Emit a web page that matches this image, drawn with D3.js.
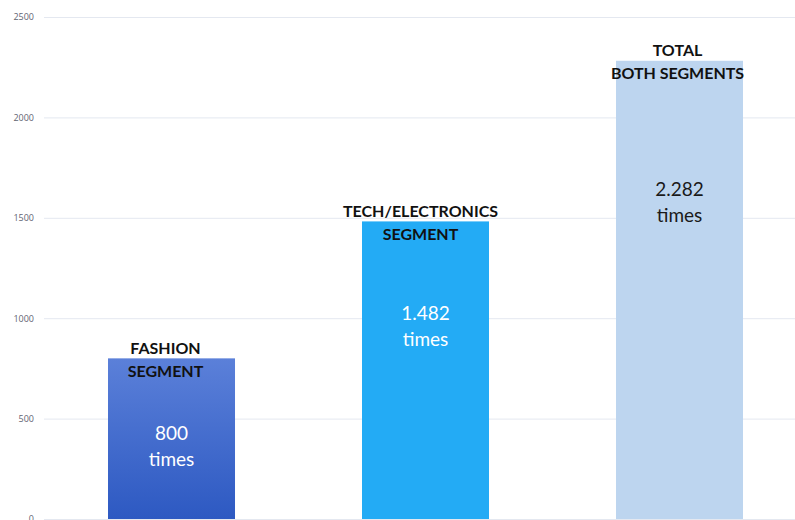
<!DOCTYPE html>
<html>
<head>
<meta charset="utf-8">
<script src="https://cdn.jsdelivr.net/npm/d3@7"></script>
<style>
  html, body { margin: 0; padding: 0; background: #fff; }
  svg { display: block; }
</style>
</head>
<body>
<svg id="chart" width="795" height="520"></svg>
<script>
// Number of times, by segment
const categories = ["FASHION SEGMENT", "TECH/ELECTRONICS SEGMENT", "TOTAL BOTH SEGMENTS"];
const nameLines = [["FASHION", "SEGMENT"], ["TECH/ELECTRONICS", "SEGMENT"], ["TOTAL", "BOTH SEGMENTS"]];
const values = [800, 1482, 2282];
const valueText = ["800", "1.482", "2.282"];
const yTicks = [0, 500, 1000, 1500, 2000, 2500];

const W = 795, H = 520;
const svg = d3.select("#chart");

const y = d3.scaleLinear().domain([0, 2500]).range([519, 17]);
const x = d3.scaleBand().domain(categories).range([44, 807]).paddingInner(0.5).paddingOuter(0.252);

// gradient for the first bar
const defs = svg.append("defs");
const g1 = defs.append("linearGradient").attr("id", "fashionGrad")
  .attr("x1", 0).attr("y1", 0).attr("x2", 0).attr("y2", 1);
g1.append("stop").attr("offset", "0%").attr("stop-color", "#5b80d9");
g1.append("stop").attr("offset", "100%").attr("stop-color", "#2d59c2");

const fills = ["url(#fashionGrad)", "#23abf5", "#bdd5ef"];
const valueColors = ["#ffffff", "#ffffff", "#1a1a1a"];
// vertical drop of the value label below each bar's top
const valueDrop = [74, 91, 128];
// category titles sit slightly left of the bar centre
const titleShift = [-6, -5, -2];

// grid + y tick labels
const yAxis = d3.axisLeft(y).tickValues(yTicks).tickFormat(d3.format("d"))
  .tickSize(-(W - 44)).tickPadding(10);
const ga = svg.append("g").attr("transform", "translate(44,0)").call(yAxis);
ga.select(".domain").remove();
ga.selectAll(".tick line").attr("stroke", "#e4e8f0").attr("stroke-width", 1);
ga.selectAll(".tick text")
  .attr("fill", "#5f6472")
  .style("font-family", "'Open Sans', sans-serif")
  .style("font-size", "9px");

// bars
svg.append("g").selectAll("rect").data(categories).join("rect")
  .attr("x", d => x(d))
  .attr("width", x.bandwidth())
  .attr("y", (d, i) => y(values[i]))
  .attr("height", (d, i) => y(0) - y(values[i]))
  .attr("fill", (d, i) => fills[i]);

// category labels over the bar tops
const catG = svg.append("g");
categories.forEach((c, i) => {
  const cx = x(c) + x.bandwidth() / 2 + titleShift[i];
  const top = y(values[i]);
  catG.append("text")
    .attr("x", cx)
    .attr("text-anchor", "middle")
    .attr("fill", "#111")
    .style("font-family", "Lato, 'Open Sans', sans-serif")
    .style("font-weight", "bold")
    .style("font-size", "16px")
    .selectAll("tspan").data(nameLines[i]).join("tspan")
      .attr("x", cx)
      .attr("y", (d, j) => top - 11 + j * 23)
      .attr("dominant-baseline", "central")
      .text(d => d);
});

// value labels inside the bars
const valG = svg.append("g");
categories.forEach((c, i) => {
  const cx = x(c) + x.bandwidth() / 2;
  const top = y(values[i]);
  valG.append("text")
    .attr("text-anchor", "middle")
    .attr("fill", valueColors[i])
    .style("font-family", "Lato, 'Open Sans', sans-serif")
    .style("font-size", "19px")
    .selectAll("tspan").data([valueText[i], "times"]).join("tspan")
      .attr("x", cx)
      .attr("y", (d, j) => top + valueDrop[i] + j * 26)
      .attr("dominant-baseline", "central")
      .text(d => d);
});
</script>
</body>
</html>
